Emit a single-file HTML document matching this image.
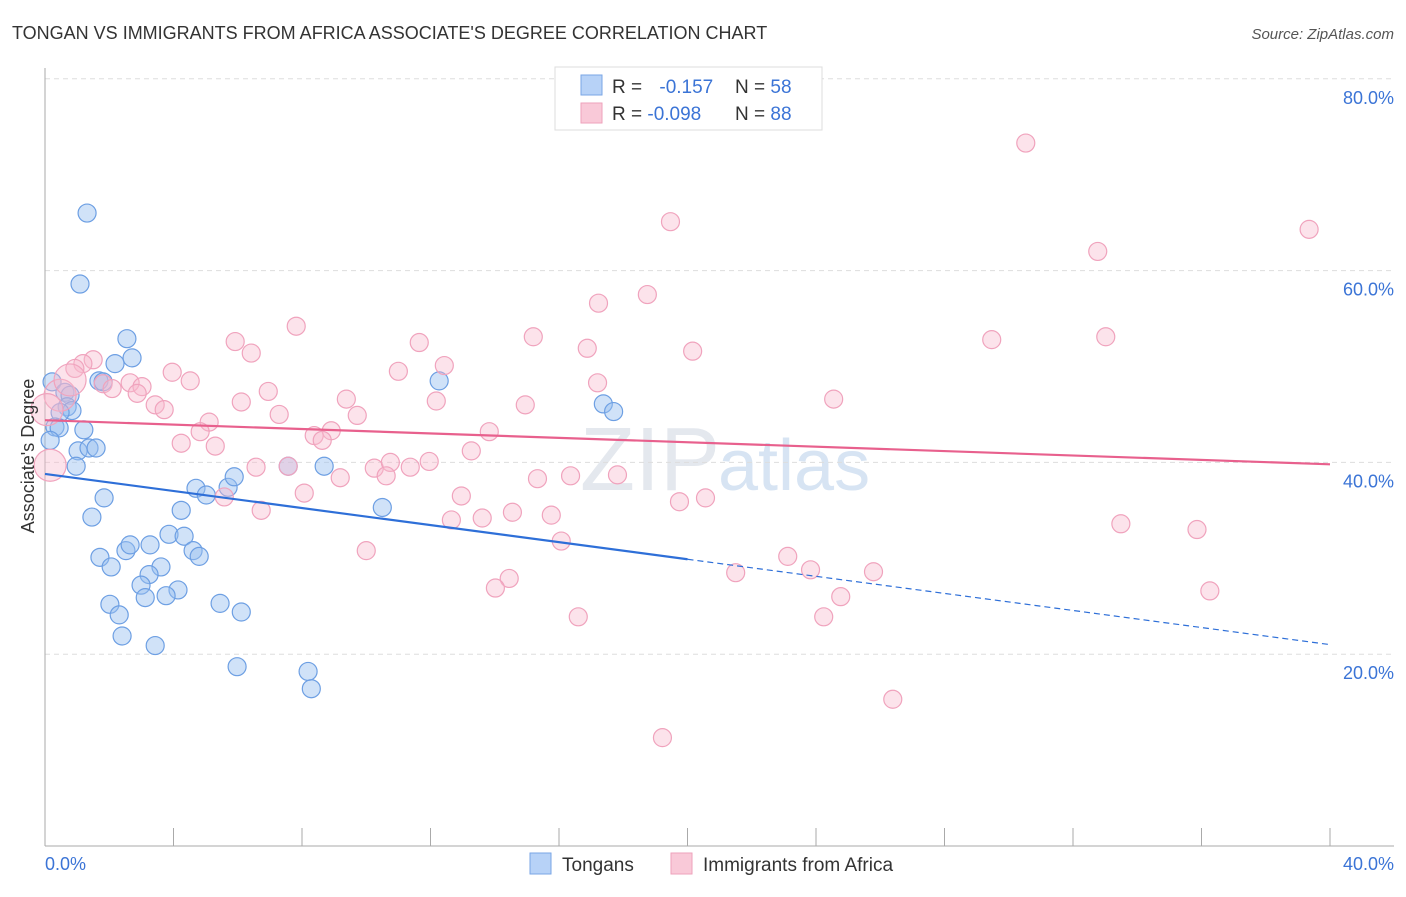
<!DOCTYPE html>
<html><head><meta charset="utf-8"><style>
body{margin:0;background:#fff;font-family:"Liberation Sans",sans-serif;}
svg text{font-family:"Liberation Sans",sans-serif;}
</style></head><body>
<svg id="chart" width="1406" height="892">
<text x="12" y="39" font-size="18" fill="#333">TONGAN VS IMMIGRANTS FROM AFRICA ASSOCIATE'S DEGREE CORRELATION CHART</text>
<text x="1394" y="39" font-size="15" fill="#555" text-anchor="end" font-style="italic">Source: ZipAtlas.com</text>
<text x="720" y="490" font-size="90" fill="#e4e8ee" text-anchor="end" font-family="Liberation Serif">ZIP</text>
<text x="718" y="490" font-size="72" fill="#d7e4f3">atlas</text>
<g id="grid"></g>
<g id="axes"></g>
<g id="pts"></g>
<g id="lines"></g>
<text transform="translate(34,456) rotate(-90)" font-size="18" fill="#333" text-anchor="middle">Associate's Degree</text>
<text x="45" y="870" font-size="18" fill="#3b74d6">0.0%</text>
<text x="1394" y="870" font-size="18" fill="#3b74d6" text-anchor="end">40.0%</text>
<g>
<rect x="555" y="67" width="267" height="63" fill="#fff" stroke="#ddd"/>
<rect x="581" y="75" width="21" height="20" fill="#b7d2f7" stroke="#7aa6e6"/>
<rect x="581" y="103" width="21" height="20" fill="#f9c9d8" stroke="#eea2bb"/>
<text x="612" y="93" font-size="19" fill="#333">R = <tspan fill="#3b74d6" dx="12">-0.157</tspan></text>
<text x="735" y="93" font-size="19" fill="#333">N = <tspan fill="#3b74d6">58</tspan></text>
<text x="612" y="120" font-size="19" fill="#333">R = <tspan fill="#3b74d6">-0.098</tspan></text>
<text x="735" y="120" font-size="19" fill="#333">N = <tspan fill="#3b74d6">88</tspan></text>
</g>
<g>
<rect x="530" y="853" width="21" height="21" fill="#b7d2f7" stroke="#7aa6e6"/>
<text x="562" y="871" font-size="19" fill="#333">Tongans</text>
<rect x="671" y="853" width="21" height="21" fill="#f9c9d8" stroke="#eea2bb"/>
<text x="703" y="871" font-size="19" fill="#333">Immigrants from Africa</text>
</g>
</svg>
<script>
const yTicks=[20,40,60,80];
const yTickLabels=["20.0%","40.0%","60.0%","80.0%"];
const xTicks=[0,4,8,12,16,20,24,28,32,36,40];
const tonganX=[1.31,1.09,2.55,2.71,2.18,0.22,1.68,1.81,0.62,0.78,0.69,0.84,0.47,0.31,0.44,1.21,0.16,1.03,1.37,1.59,0.97,1.84,1.46,2.52,2.65,1.71,2.06,3.27,3.61,3.24,2.99,3.12,4.14,3.77,2.02,2.31,2.40,3.43,3.86,4.33,4.24,4.70,5.02,4.61,4.80,5.45,6.11,5.70,5.89,7.57,8.69,10.50,12.27,17.38,17.70,5.98,8.19,8.29];
const tonganY=[66.0,58.6,52.9,50.9,50.3,48.4,48.5,48.4,47.3,47.0,45.8,45.4,45.2,43.7,43.6,43.4,42.3,41.2,41.5,41.5,39.6,36.3,34.3,30.8,31.4,30.1,29.1,31.4,29.1,28.3,27.2,25.9,26.7,26.1,25.2,24.1,21.9,20.9,32.5,32.3,35.0,37.3,36.6,30.8,30.2,25.3,24.4,37.4,38.5,39.6,39.6,35.3,48.5,46.1,45.3,18.7,18.2,16.4];
const africaX=[30.53,19.47,39.35,32.77,18.75,17.23,7.82,15.20,33.02,29.47,16.88,20.16,5.92,6.42,11.65,12.43,1.50,1.18,0.93,11.00,3.96,4.52,17.20,2.65,1.81,2.09,3.02,2.87,6.95,9.38,12.18,14.95,24.55,6.11,3.43,3.71,7.29,9.72,5.11,4.83,13.83,8.91,8.38,8.63,4.24,5.30,13.27,6.57,10.25,11.37,11.96,10.75,10.62,9.19,15.33,16.36,17.82,8.07,12.96,5.58,6.73,20.56,19.75,14.55,12.65,13.61,15.76,33.49,35.86,16.07,10.00,23.12,23.83,21.50,25.79,14.45,14.02,24.77,36.26,16.60,24.24,26.39,19.22,0.16,0.47,0.78,0.06,7.57];
const africaY=[73.3,65.1,64.3,62.0,57.5,56.6,54.2,53.1,53.1,52.8,51.9,51.6,52.6,51.4,52.5,50.1,50.7,50.3,49.8,49.5,49.4,48.5,48.3,48.3,48.2,47.7,47.9,47.2,47.4,46.6,46.4,46.0,46.6,46.3,46.0,45.5,45.0,44.9,44.2,43.2,43.2,43.3,42.8,42.3,42.0,41.7,41.2,39.5,39.4,39.5,40.1,40.0,38.6,38.4,38.3,38.6,38.7,36.8,36.5,36.4,35.0,36.3,35.9,34.8,34.0,34.2,34.5,33.6,33.0,31.8,30.8,30.2,28.8,28.5,28.6,27.9,26.9,26.0,26.6,23.9,23.9,15.3,11.3,39.7,47.0,48.6,45.5,39.6];
const africaBig=[83,84,85,86];
const tonganTrend=[38.8,21.0];
const africaTrend=[44.4,39.8];
const NS="http://www.w3.org/2000/svg";
const X0=45,X1=1330,Y0=846,YS=9.59;
function sx(v){return X0+(v/40)*(X1-X0);}
function sy(v){return Y0-v*YS;}
function mk(t,a,p){const e=document.createElementNS(NS,t);for(const k in a)e.setAttribute(k,a[k]);p.appendChild(e);return e;}
const grid=document.getElementById('grid'),axes=document.getElementById('axes'),pts=document.getElementById('pts'),lines=document.getElementById('lines');
yTicks.forEach((t,i)=>{
 const l=mk('line',{x1:X0,x2:1394,y1:sy(t),y2:sy(t),stroke:'#ddd','stroke-dasharray':'5,4'},grid);
 
 
 const tx=mk('text',{x:1394,y:sy(t)+25,'font-size':18,fill:'#3b74d6','text-anchor':'end'},grid);
 tx.textContent=yTickLabels[i];
 
 
});
const ax=mk('line',{x1:X0,x2:X0,y1:68,y2:Y0,stroke:'#aaa'},axes);


const bx=mk('line',{x1:X0,x2:1394,y1:Y0,y2:Y0,stroke:'#aaa'},axes);


xTicks.forEach(t=>{
 const l=mk('line',{x1:sx(t),x2:sx(t),y1:828,y2:Y0,stroke:'#aaa'},axes);
 
 
});
tonganX.forEach((x,i)=>{
 const c=mk('circle',{cx:sx(x),cy:sy(tonganY[i]),r:9,fill:'rgba(150,190,240,0.45)',stroke:'#6d9fe3','stroke-width':1.2},pts);
 
 
});
africaX.forEach((x,i)=>{
 const big=africaBig.indexOf(i)>=0;
 const c=mk('circle',{cx:sx(x),cy:sy(africaY[i]),r:big?16:9,fill:'rgba(248,185,205,0.4)',stroke:'#f0a3bd','stroke-width':1.2},pts);
 
 
});
const pl=mk('line',{x1:sx(0),y1:sy(africaTrend[0]),x2:sx(40),y2:sy(africaTrend[1]),stroke:'#e8608d','stroke-width':2.2},lines);


const xm=20;
const ym=tonganTrend[0]+(tonganTrend[1]-tonganTrend[0])*xm/40;
const bl=mk('line',{x1:sx(0),y1:sy(tonganTrend[0]),x2:sx(xm),y2:sy(ym),stroke:'#2e6fd8','stroke-width':2.2},lines);


const bd=mk('line',{x1:sx(xm),y1:sy(ym),x2:sx(40),y2:sy(tonganTrend[1]),stroke:'#2e6fd8','stroke-width':1.2,'stroke-dasharray':'6,4'},lines);


</script>
</body></html>
